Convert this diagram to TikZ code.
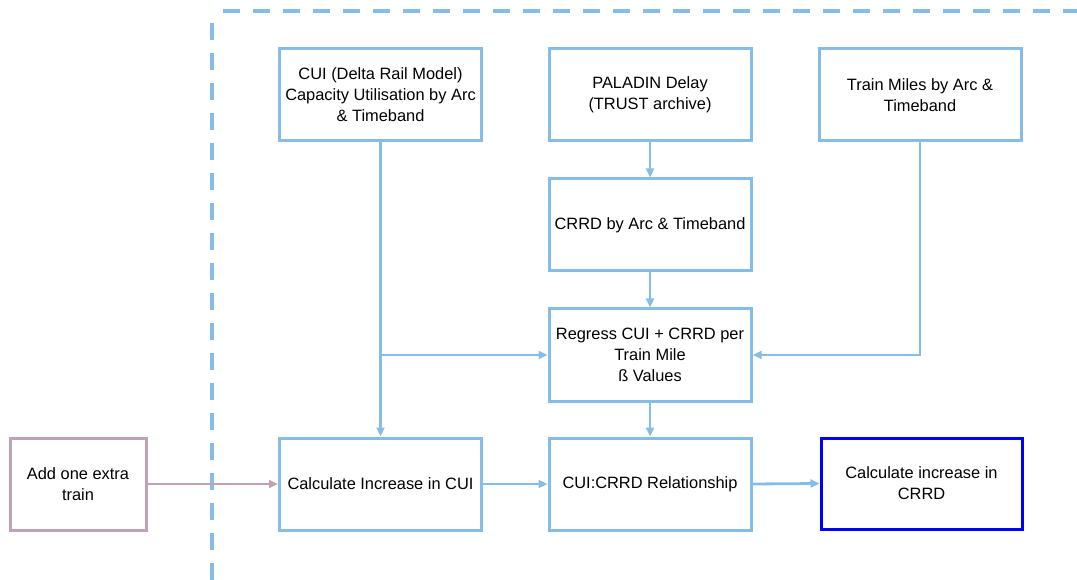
\documentclass[tikz,border=0pt]{standalone}
\usepackage{fontspec}
\setmainfont{Liberation Sans}
\usetikzlibrary{arrows.meta}
\definecolor{skyline}{HTML}{85BDE8}
\definecolor{mauveline}{HTML}{C0A2B6}
\definecolor{strongblue}{HTML}{0000FF}
\tikzset{
  procbox/.style={draw=skyline, line width=3pt, fill=white, minimum width=202pt,
    minimum height=92pt, align=center, inner sep=1pt,
    font=\fontsize{16.4}{21}\selectfont},
  flow/.style={draw=skyline, line width=2.8pt, -{Triangle[length=9pt,width=8pt]}},
}
\begin{document}
\begin{tikzpicture}[x=1pt,y=-1pt]
\useasboundingbox (0,0) rectangle (1077,580);
% dashed frame around the model
\draw[skyline, line width=3.2pt, dash pattern=on 17pt off 13pt] (212,580) -- (212,14);
\draw[skyline, line width=3.2pt, dash pattern=on 17pt off 13pt] (223,11) -- (1077,11);

% boxes
\node[procbox] (cui) at (380.5,95) {CUI (Delta Rail Model)\\Capacity Utilisation by Arc\\\& Timeband};
\node[procbox] (paladin) at (650,95) {PALADIN Delay\\(TRUST archive)};
\node[procbox] (miles) at (920,95) {Train Miles by Arc \&\\Timeband};
\node[procbox] (crrd) at (650,225) {CRRD by Arc \& Timeband};
\node[procbox] (regress) at (650,355) {Regress CUI + CRRD per\\Train Mile\\ß Values};
\node[procbox] (calccui) at (380.5,484) {Calculate Increase in CUI};
\node[procbox] (rel) at (650,484) {CUI:CRRD Relationship};
\node[procbox, draw=strongblue, minimum width=201pt, minimum height=91pt] (calccrrd) at (921.5,483.5) {Calculate increase in\\CRRD};
\node[procbox, draw=mauveline, minimum width=136pt] (extra) at (78,484) {Add one extra\\train};

% connectors
\coordinate (join) at (cui.south |- regress.west);
\draw[flow] (cui.south) -- (calccui.north);
\draw[flow] (join) -- (regress.west);
\draw[flow] (miles.south) |- (regress.east);
\draw[flow] (paladin.south) -- (crrd.north);
\draw[flow] (crrd.south) -- (regress.north);
\draw[flow] (regress.south) -- (rel.north);
\draw[flow, draw=mauveline] (extra.east) -- (calccui.west);
\draw[flow] (calccui.east) -- (rel.west);
\draw[flow] (rel.east) -- (calccrrd.west);
\end{tikzpicture}
\end{document}
